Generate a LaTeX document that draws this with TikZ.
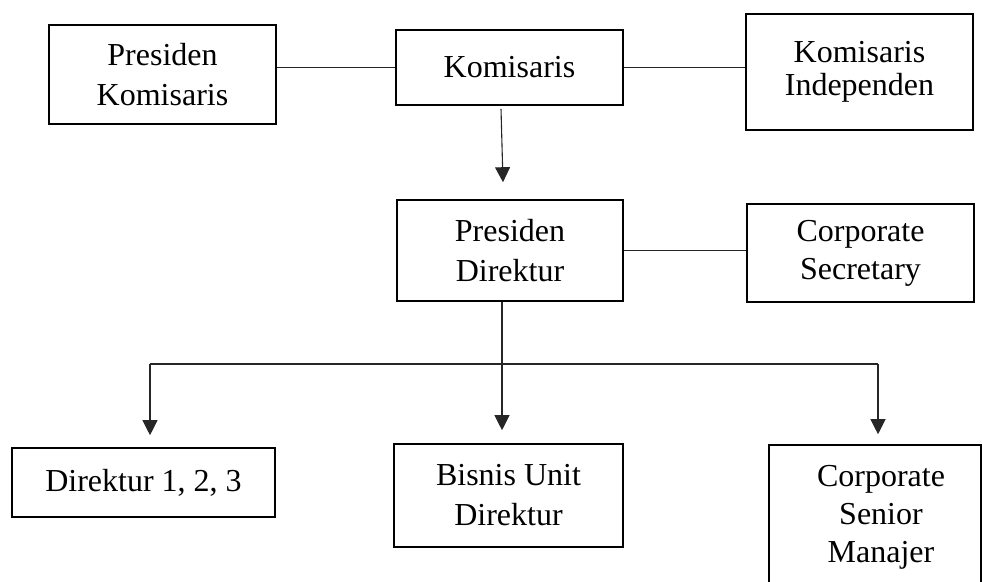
\documentclass[tikz,border=0pt]{standalone}
\usepackage{fontspec}
\setmainfont{Liberation Serif}
\usetikzlibrary{arrows.meta}
\tikzset{
  box/.style={draw=black, line width=1.6pt, rectangle, inner sep=0pt, align=center,
    font=\fontsize{32}{40}\selectfont},
  conn/.style={draw=black!85, line width=1.1pt},
  arr/.style={conn, -{Triangle[width=15pt,length=15pt]}}
}
\begin{document}
\begin{tikzpicture}[x=1pt,y=-1pt]
\useasboundingbox (0,0) rectangle (982,581);
\clip (0,0) rectangle (982,581);
% top row
\node[box, minimum width=227pt, minimum height=99pt] (pk) at (162.5,74.5) {Presiden\\Komisaris};
\node[box, minimum width=227pt, minimum height=75pt] (kom) at (509.5,67.5) {Komisaris};
\node[box, minimum width=227pt, minimum height=116pt, font=\fontsize{32}{33}\selectfont] (ki) at (859.5,72) {Komisaris\\Independen};
% middle row
\node[box, minimum width=226pt, minimum height=101pt] (pd) at (510,250.5) {Presiden\\Direktur};
\node[box, minimum width=227pt, minimum height=98pt, font=\fontsize{32}{38}\selectfont] (cs) at (860.5,253) {Corporate\\Secretary};
% bottom row
\node[box, minimum width=263pt, minimum height=69pt] (d123) at (143.5,482.5) {Direktur 1, 2, 3};
\node[box, minimum width=229pt, minimum height=103pt] (bud) at (508.5,495.5) {Bisnis Unit\\Direktur};
\node[box, minimum width=212pt, minimum height=145pt, font=\fontsize{32}{38}\selectfont] (csm) at (875,517.5) {\hspace*{12pt}Corporate\\\hspace*{12pt}Senior\\\hspace*{12pt}Manajer};
% connectors top
\draw[conn] (kom.west) -- (kom.west -| pk.east);
\draw[conn] (kom.east) -- (kom.east -| ki.west);
\draw[arr] ([xshift=-8.5pt,yshift=-3pt]kom.south) -- ([xshift=-7pt,yshift=17pt]pd.north);
% connectors middle
\draw[conn] (pd.east) -- (pd.east -| cs.west);
\coordinate (j) at (502,364);
\coordinate (l) at (150,364);
\coordinate (r) at (878,364);
\draw[conn] (pd.south -| j) -- (j);
\draw[conn] (l) -- (r);
\draw[arr, shorten >=12pt] (l) -- (l |- d123.north);
\draw[arr, shorten >=13pt] (j) -- (j |- bud.north);
\draw[arr, shorten >=10pt] (r) -- (r |- csm.north);
\end{tikzpicture}
\end{document}
